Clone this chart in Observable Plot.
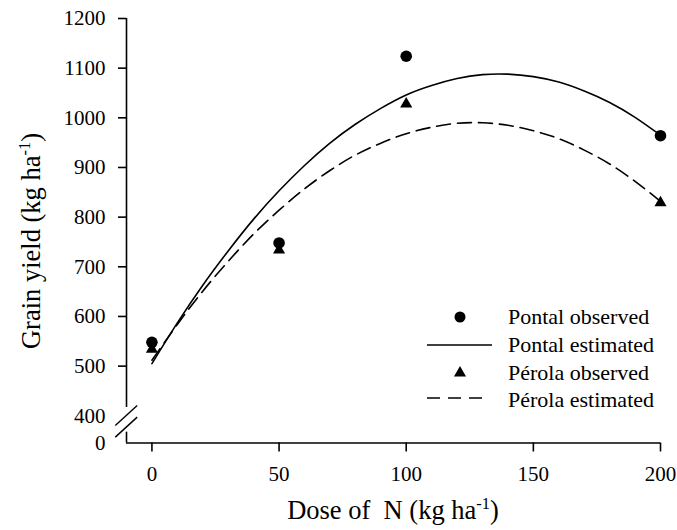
<!DOCTYPE html>
<html>
<head>
<meta charset="utf-8">
<script src="https://cdn.jsdelivr.net/npm/d3@7"></script>
<script src="https://cdn.jsdelivr.net/npm/@observablehq/plot@0.6"></script>
<style>
  body { margin: 0; background: #fff; }
  #chart svg { display: block; }
</style>
</head>
<body>
<div id="chart"></div>
<script>
// ---- data ----
const doses = [0, 50, 100, 200];
const pontalObserved = [548, 748, 1124, 964];
const perolaObserved = [534, 734, 1028, 829];

const curveDoses = [0, 10, 20, 30, 40, 50, 60, 70, 80, 90, 100, 110, 120, 130, 140, 150, 160, 170, 180, 190, 200];
const pontalEstimated = [505, 587, 663, 732, 796, 853, 904, 949, 987, 1019, 1046, 1065, 1079, 1087, 1088, 1083, 1072, 1054, 1031, 1001, 965];
const perolaEstimated = [512, 584, 651, 711, 766, 814, 857, 894, 925, 949, 968, 981, 989, 990, 985, 974, 958, 935, 907, 872, 832];

const xTicks = [0, 50, 100, 150, 200];
const yTicks = [500, 600, 700, 800, 900, 1000, 1100, 1200];
// broken axis: the "0" label sits at the bottom of the compressed segment
const yBreakBottom = 345.2;
const yBrokenLabels = [{v: yBreakBottom, label: "0"}, {v: 400, label: "400"}];

const legendLabels = ["Pontal observed", "Pontal estimated", "P\u00e9rola observed", "P\u00e9rola estimated"];
const xTitle = ["Dose of  N (kg ha", "-1", ")"];
const yTitle = ["Grain yield (kg ha", "-1", ")"];

// ---- tables ----
const obs = doses.flatMap((d, i) => [
  {dose: d, y: pontalObserved[i], cultivar: "Pontal"},
  {dose: d, y: perolaObserved[i], cultivar: "Pérola"}
]);
const est = curveDoses.flatMap((d, i) => [
  {dose: d, y: pontalEstimated[i], cultivar: "Pontal"},
  {dose: d, y: perolaEstimated[i], cultivar: "Pérola"}
]);

const font = "'Liberation Serif', 'Times New Roman', Times, serif";
const axisW = 1.6;

const chart = Plot.plot({
  width: 677,
  height: 530,
  marginLeft: 126,
  marginRight: 17,
  marginTop: 18,
  marginBottom: 87.5,
  style: {fontFamily: font, background: "white", color: "black", overflow: "visible"},
  x: {domain: [-10, 200]},
  y: {domain: [yBreakBottom, 1200]},
  marks: [
    // axis lines (with break on y)
    Plot.ruleY([yBreakBottom], {x1: -10, x2: 200, stroke: "black", strokeWidth: axisW}),
    Plot.ruleX([-10], {y1: 416.7, y2: 1200, stroke: "black", strokeWidth: axisW}),
    Plot.ruleX([-10], {y1: yBreakBottom, y2: 367, stroke: "black", strokeWidth: axisW}),
    Plot.link([{a: -14.4, b: 380.5, c: -5.8, d: 420.8}, {a: -14.4, b: 357, c: -5.8, d: 397.3}],
      {x1: "a", y1: "b", x2: "c", y2: "d", stroke: "black", strokeWidth: 1.4}),
    Plot.axisX({ticks: xTicks, tickSize: 9, tickPadding: 14, fontSize: 21, label: null, strokeWidth: axisW, tickFormat: d => String(d)}),
    Plot.axisY({ticks: yTicks, tickSize: 8, tickPadding: 13, fontSize: 21, label: null, strokeWidth: axisW, tickFormat: d => String(d)}),
    Plot.text(yBrokenLabels, {x: -10, y: "v", text: "label", dx: -21, textAnchor: "end", fontSize: 21}),
    // estimated curves
    Plot.line(est.filter(d => d.cultivar === "Pontal"), {x: "dose", y: "y", stroke: "black", strokeWidth: 1.6, curve: "natural"}),
    Plot.line(est.filter(d => d.cultivar === "Pérola"), {x: "dose", y: "y", stroke: "black", strokeWidth: 1.6, strokeDasharray: "14,7", curve: "natural"}),
    // observed points
    Plot.dot(obs.filter(d => d.cultivar === "Pontal"), {x: "dose", y: "y", r: 5.8, fill: "black", symbol: "circle"}),
    Plot.dot(obs.filter(d => d.cultivar === "Pérola"), {x: "dose", y: "y", r: 4.5, fill: "black", symbol: "triangle"})
  ]
});

document.getElementById("chart").appendChild(chart);

// ---- titles & legend ----
const svg = d3.select(chart);

function richText(g, parts, size) {
  const t = g.append("text").attr("font-family", font).attr("font-size", size).attr("fill", "black");
  t.append("tspan").text(parts[0]);
  t.append("tspan").attr("font-size", size * 0.62).attr("dy", -size * 0.38).text(parts[1]);
  t.append("tspan").attr("dy", size * 0.38).text(parts[2]);
  return t;
}

richText(svg.append("g"), xTitle, 26.5)
  .attr("x", 393).attr("y", 519).attr("text-anchor", "middle");

richText(svg.append("g").attr("transform", "translate(40,241) rotate(-90)"), yTitle, 26.5)
  .attr("x", 0).attr("y", 0).attr("text-anchor", "middle");

const lg = svg.append("g").attr("text-anchor", "start");
const rowY = [317, 345, 373, 400];
lg.append("circle").attr("cx", 460).attr("cy", rowY[0]).attr("r", 5.5).attr("fill", "black");
lg.append("line").attr("x1", 427).attr("x2", 492).attr("y1", rowY[1]).attr("y2", rowY[1])
  .attr("stroke", "black").attr("stroke-width", 1.6);
lg.append("path").attr("d", d3.symbol(d3.symbolTriangle, Math.PI * 4.5 * 4.5)())
  .attr("transform", `translate(460,${rowY[2]})`).attr("fill", "black");
lg.append("line").attr("x1", 427).attr("x2", 489).attr("y1", rowY[3] - 2).attr("y2", rowY[3] - 2)
  .attr("stroke", "black").attr("stroke-width", 1.6).attr("stroke-dasharray", "13,8");
legendLabels.forEach((s, i) => {
  lg.append("text").attr("x", 508).attr("y", rowY[i]).attr("dy", "0.34em").attr("text-anchor", "start")
    .attr("font-family", font).attr("font-size", 22).attr("fill", "black").text(s);
});
</script>
</body>
</html>
